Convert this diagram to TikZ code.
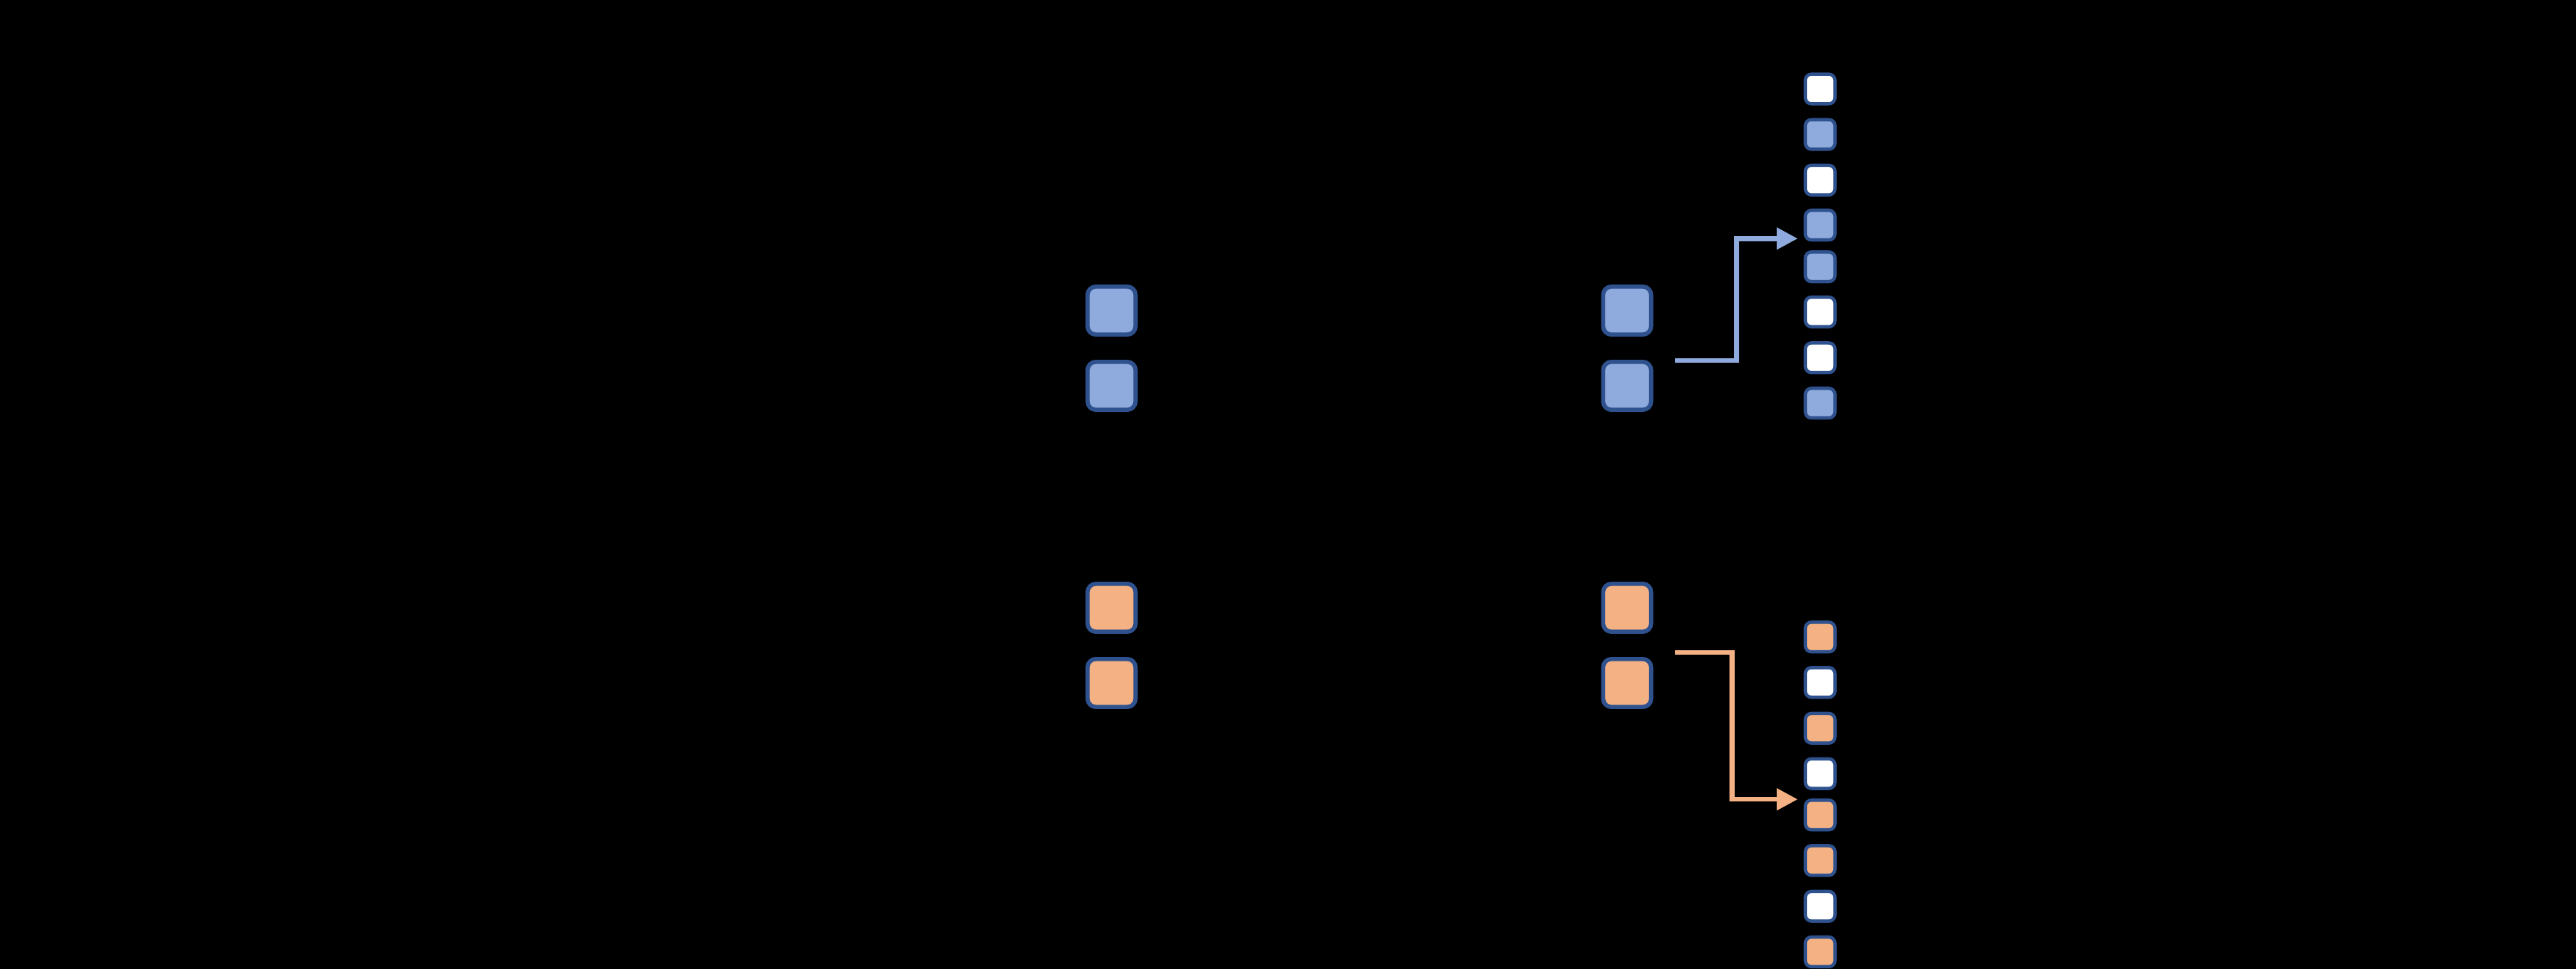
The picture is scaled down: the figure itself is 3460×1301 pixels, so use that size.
\documentclass[tikz,border=0pt]{standalone}
\usetikzlibrary{calc,arrows.meta}

\definecolor{cedge}{HTML}{2F528F}
\definecolor{cblue}{HTML}{8FAADC}
\definecolor{corange}{HTML}{F4B183}

\tikzset{
  bigbox/.style={draw=cedge, line width=1.6pt, rounded corners=0.11cm,
    minimum size=0.643cm, inner sep=0pt},
  smallbox/.style={draw=cedge, line width=1.25pt, rounded corners=0.08cm,
    minimum size=0.397cm, inner sep=0pt},
  linkarrow/.style={line width=1.85pt, -{Triangle[length=0.28cm, width=0.28cm]}}
}

\begin{document}
\begin{tikzpicture}[x=0.01cm, y=-0.01cm]

  % 背景（原图为黑底）
  \fill[black] (0,0) rectangle (3460,1301);
  \useasboundingbox (0,0) rectangle (3460,1301);

  % 列位置
  \pgfmathsetmacro{\xl}{1493}
  \pgfmathsetmacro{\xr}{2185.5}
  \pgfmathsetmacro{\xs}{2444.7}

  % ---- 蓝色大块（左右两列） ----
  \node[bigbox, fill=cblue] (bL1) at (\xl,417) {};
  \node[bigbox, fill=cblue] (bL2) at (\xl,518) {};
  \node[bigbox, fill=cblue] (bR1) at (\xr,417) {};
  \node[bigbox, fill=cblue] (bR2) at (\xr,518) {};

  % ---- 橙色大块（左右两列） ----
  \node[bigbox, fill=corange] (oL1) at (\xl,816) {};
  \node[bigbox, fill=corange] (oL2) at (\xl,917) {};
  \node[bigbox, fill=corange] (oR1) at (\xr,816) {};
  \node[bigbox, fill=corange] (oR2) at (\xr,917) {};

  % ---- 右侧小块：上组（蓝） ----
  \foreach \yy/\cc [count=\i] in {119.5/white, 180.5/cblue, 241.8/white, 302.3/cblue,
                                  358.2/cblue, 418.8/white, 480.3/white, 541.3/cblue}
    \node[smallbox, fill=\cc] (sb\i) at (\xs,\yy) {};

  % ---- 右侧小块：下组（橙） ----
  \foreach \yy/\cc [count=\i] in {855.3/corange, 916.2/white, 977.8/corange, 1038.7/white,
                                  1094.2/corange, 1155.3/corange, 1216.8/white, 1278/corange}
    \node[smallbox, fill=\cc] (so\i) at (\xs,\yy) {};

  % ---- 折线箭头 ----
  \draw[linkarrow, cblue] ($(bR2.north east)+(29,1)$) -- ++(83,0)
    |- ($(sb4.west)+(-8,18)$);
  \draw[linkarrow, corange] ($(oR2.north east)+(29,-6)$) -- ++(77,0)
    |- ($(so5.west)+(-8,-21)$);

\end{tikzpicture}
\end{document}
